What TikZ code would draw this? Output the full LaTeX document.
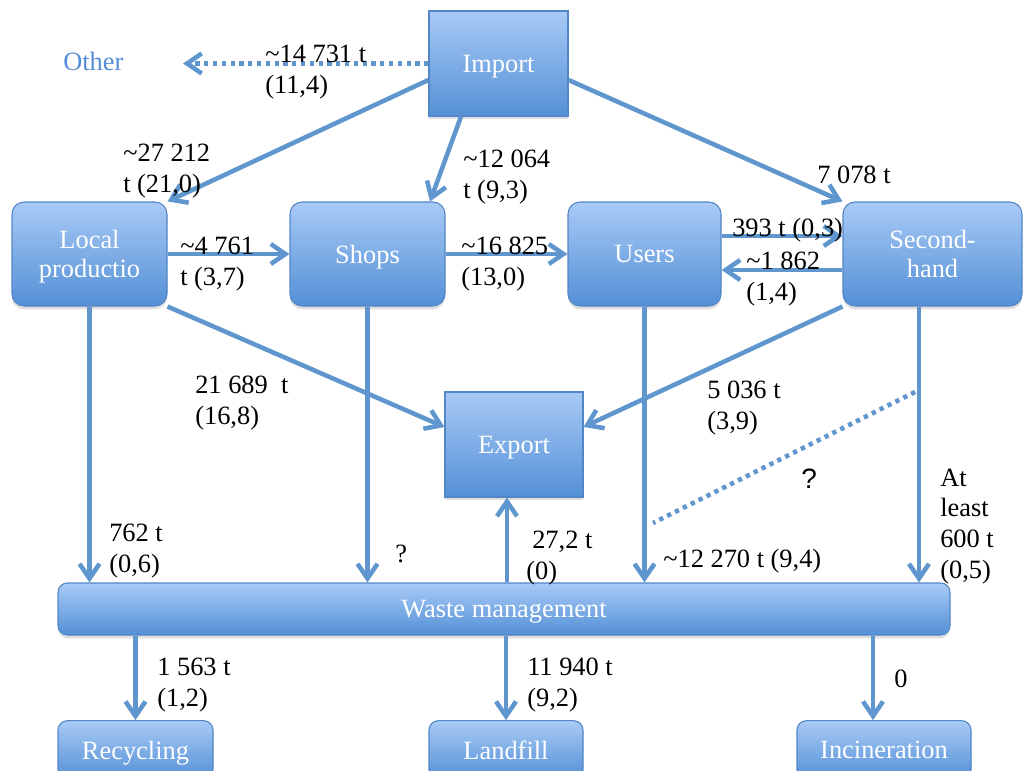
\documentclass[tikz,border=0pt]{standalone}
\usepackage{fontspec}
\setmainfont{Liberation Serif}
\newfontfamily\qfont{Liberation Sans}
\usetikzlibrary{arrows.meta,shadows}
\definecolor{flow-blue}{RGB}{95,150,205}
\definecolor{box-top}{RGB}{168,202,246}
\definecolor{box-bottom}{RGB}{84,144,214}
\definecolor{box-line}{RGB}{82,134,198}
\definecolor{other-blue}{RGB}{84,141,212}

\begin{document}
\begin{tikzpicture}[x=0.75pt, y=-0.75pt,
	box/.style={draw=box-line, line width=0.8pt, top color=box-top, bottom color=box-bottom, text=white, align=center, inner sep=0pt, text depth=0pt, font=\fontsize{19.8}{22}\selectfont, drop shadow={shadow xshift=0pt, shadow yshift=-2.5pt, opacity=0.25}},
	rbox/.style={box, rounded corners=9pt},
	flow/.style={draw=flow-blue, line width=3.4pt, -{Straight Barb[length=11pt,width=15pt]}},
	dots/.style={draw=flow-blue, line width=3.4pt, dash pattern=on 3.2pt off 3.4pt},
	lbl/.style={anchor=base west, align=left, inner sep=0pt, font=\fontsize{19.8}{23}\selectfont}]
		\useasboundingbox (0,0) rectangle (1029,771);
		\clip (0,0) rectangle (1029,771);
		
		% Draw the boxes
		\node (imp) [box, minimum width=104.25pt, minimum height=78.75pt] at (498.5,63.5) {Import};
		\node (lp) [rbox, minimum width=116.25pt, minimum height=78pt] at (89.5,254) {Local\\productio};
		\node (shops) [rbox, minimum width=116.25pt, minimum height=78pt] at (367.5,254) {Shops};
		\node (users) [rbox, minimum width=114.75pt, minimum height=78pt] at (644.5,254) {Users};
		\node (sh) [rbox, minimum width=134.25pt, minimum height=78pt] at (932.5,254) {Second-\\hand};
		\node (exp) [box, minimum width=103.5pt, minimum height=78.75pt] at (514,444.5) {Export};
		\node (waste) [rbox, rounded corners=7pt, minimum width=669pt, minimum height=39pt] at (504,609) {Waste management};
		\node (rec) [rbox, rounded corners=7pt, minimum width=116.25pt, minimum height=44pt] at (135.5,750) {Recycling};
		\node (land) [rbox, rounded corners=7pt, minimum width=115.5pt, minimum height=44pt] at (506,750) {Landfill};
		\node (inc) [rbox, rounded corners=7pt, minimum width=130.5pt, minimum height=44pt] at (884,750) {Incineration};
		\node (oth) [lbl, text=other-blue] at (63,70) {Other};
		
		% Free ends of the dotted lines
		\coordinate (othtip) at (183,63.5);
		\coordinate (qa) at (915,392);
		\coordinate (qb) at (653,523);
		
		% Flows out of the import
		\draw[flow, dots] (imp.west |- othtip) -- (othtip);
		\draw[flow] (imp.west |- 0,80) -- (lp.north east);
		\draw[flow] (imp.south -| 461,0) -- (shops.north -| 430,0);
		\draw[flow] (imp.east |- 0,80) -- (sh.north west);
		
		% Flows between the middle boxes
		\draw[flow] (lp.east) -- (shops.west);
		\draw[flow] (shops.east) -- (users.west);
		\draw[flow] (users.east |- 0,236) -- (sh.west |- 0,236);
		\draw[flow] (sh.west |- 0,270) -- (users.east |- 0,270);
		\draw[flow] (lp.south east) -- (exp.west |- 0,427);
		\draw[flow] (sh.south west) -- (exp.east |- 0,427);
		
		% Flows into the waste management
		\draw[flow] (lp.south) -- (lp.south |- waste.north);
		\draw[flow] (shops.south) -- (shops.south |- waste.north);
		\draw[flow] (users.south) -- (users.south |- waste.north);
		\draw[flow] (sh.south -| 919,0) -- (waste.north -| 919,0);
		\draw[dots] (qa) -- (qb);
		
		% Flows out of the waste management
		\draw[flow] (waste.north -| 507,0) -- (exp.south -| 507,0);
		\draw[flow] (waste.south -| rec.north) -- (rec.north);
		\draw[flow] (waste.south -| land.north) -- (land.north);
		\draw[flow] (waste.south -| 873,0) -- (inc.north -| 873,0);
		
		% Labels of the flows (placed at the baseline of the last line)
		\node (limo) [lbl] at (265,93) {\textasciitilde14 731 t\\(11,4)};
		\node (llp) [lbl] at (123,192) {\textasciitilde27 212\\t (21,0)};
		\node (lshp) [lbl] at (463,198) {\textasciitilde12 064\\t (9,3)};
		\node (lsh) [lbl] at (817,183) {7 078 t};
		\node (llpshp) [lbl] at (180,285) {\textasciitilde4 761\\t (3,7)};
		\node (lshpus) [lbl] at (461,285) {\textasciitilde16 825\\(13,0)};
		\node (lussh) [lbl] at (732,236) {393 t (0,3)};
		\node (lshus) [lbl] at (746,300) {\textasciitilde1 862\\(1,4)};
		\node (llpexp) [lbl] at (195,424) {21 689 \ t\\(16,8)};
		\node (lshexp) [lbl] at (707,429) {5 036 t\\(3,9)};
		\node (llpw) [lbl] at (109,572) {762 t\\(0,6)};
		\node (lshpw) [lbl] at (395,562) {?};
		\node (lusw) [lbl] at (663,567) {\textasciitilde12 270 t (9,4)};
		\node (lshw) [lbl] at (940,578) {At\\least\\600 t\\(0,5)};
		\node (lwexp) [lbl] at (526,579) {\hspace*{4.5pt}27,2 t\\(0)};
		\node (lq) [lbl, font=\qfont\fontsize{21}{24}\selectfont] at (801,488) {?};
		\node (lrec) [lbl] at (157,706) {1 563 t\\(1,2)};
		\node (lland) [lbl] at (527,706) {11 940 t\\(9,2)};
		\node (linc) [lbl] at (894,687) {0};
		\end{tikzpicture}
\end{document}
